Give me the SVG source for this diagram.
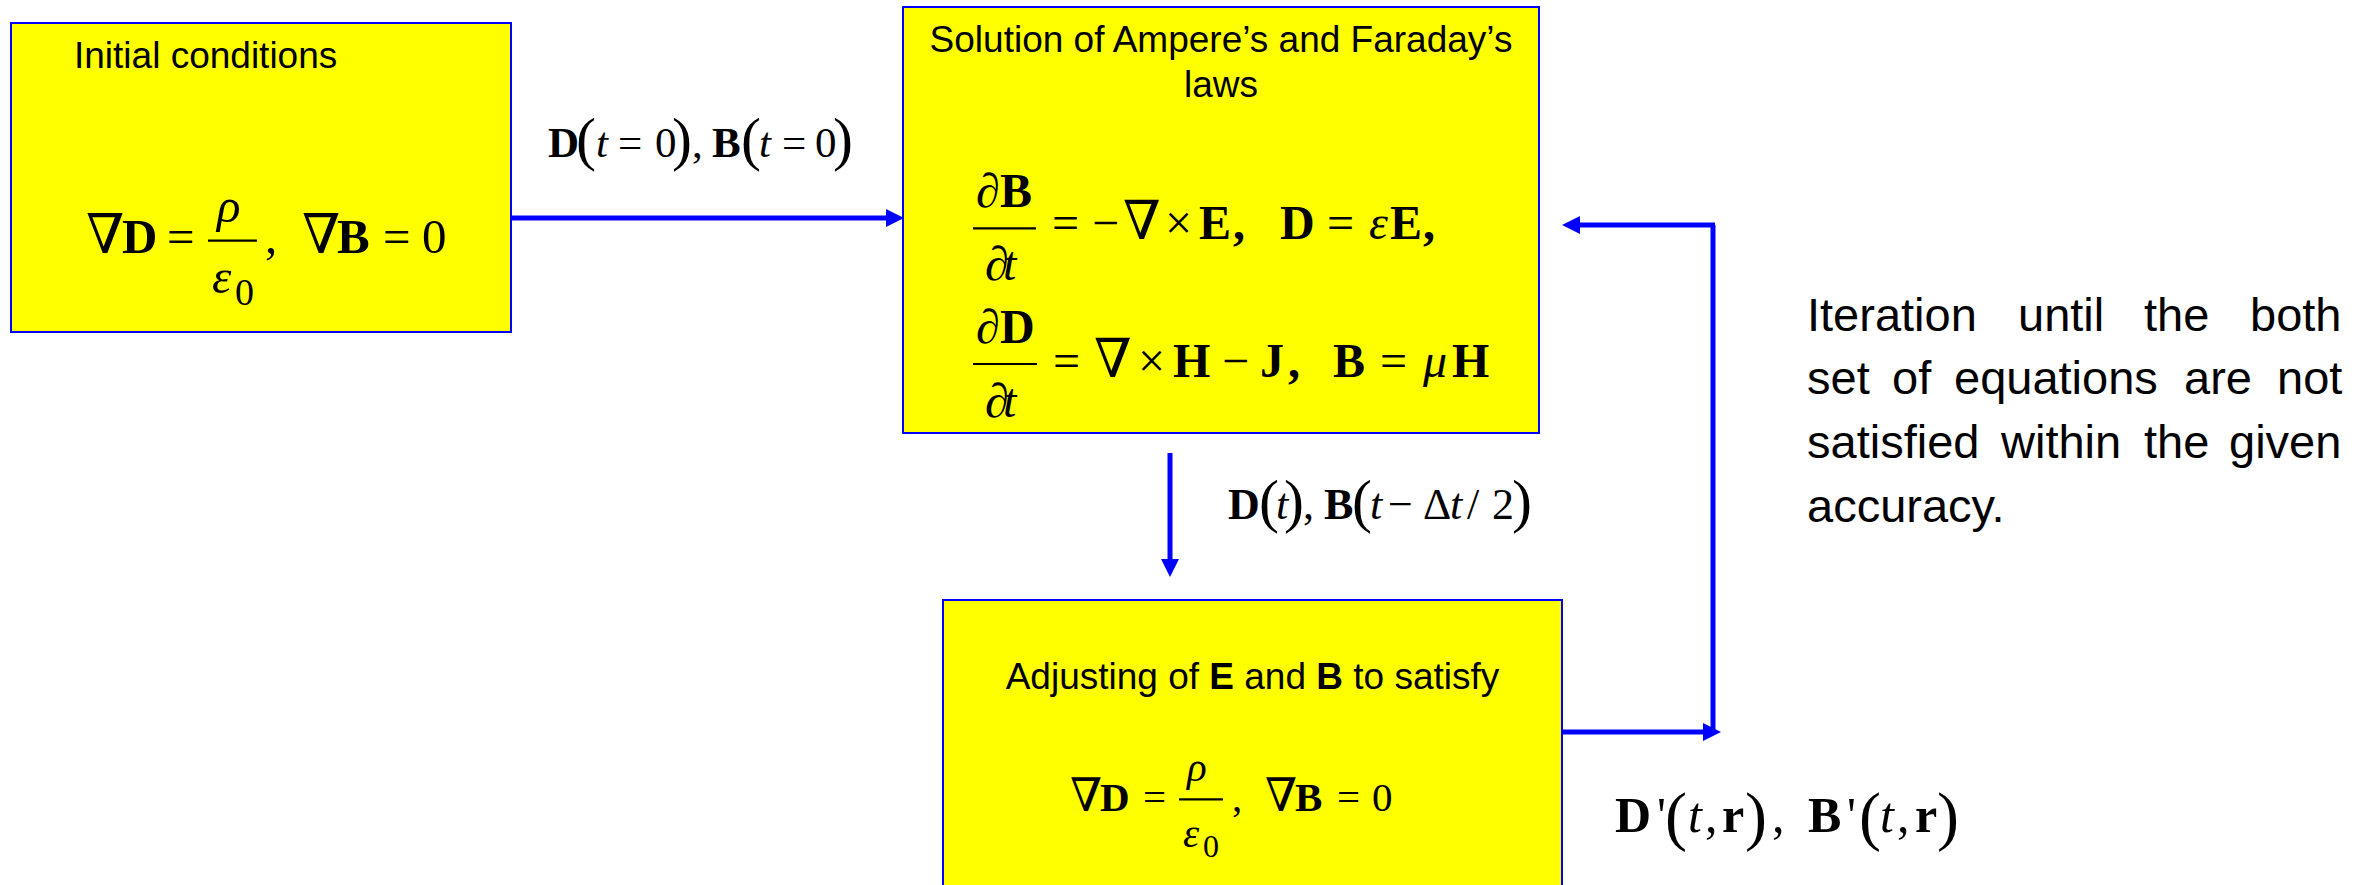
<svg xmlns="http://www.w3.org/2000/svg" width="2371" height="885" viewBox="0 0 2371 885">
<style>
.box{fill:#FFFF00;stroke:#0000FF;stroke-width:2}
.conn{stroke:#0000FF;stroke-width:5;fill:none}
.bar{stroke:#000;stroke-width:2.2}
.sans{font-family:"Liberation Sans",Arial,sans-serif;fill:#000}
.m{font-family:"Liberation Serif","Times New Roman","DejaVu Serif",serif;fill:#000}
.b{font-weight:bold}
.i{font-style:italic}
</style>
<defs>
<marker id="ah" markerUnits="userSpaceOnUse" viewBox="0 0 18 18" markerWidth="18" markerHeight="18" refX="0" refY="9" orient="auto">
<path d="M0,0 L18,9 L0,18 z" fill="#0000FF"/>
</marker>
</defs>
<rect width="2371" height="885" fill="#FFFFFF"/>

<g id="node-initial">
<rect class="box" x="11" y="23" width="500" height="309"/>
<text class="sans" x="74" y="68" font-size="37">Initial conditions</text>
<text class="m" font-size="49" y="253"><tspan x="86" font-size="55">∇</tspan><tspan class="b" x="122">D</tspan><tspan x="167">=</tspan><tspan x="265">,</tspan><tspan x="302" font-size="55">∇</tspan><tspan class="b" x="337">B</tspan><tspan x="383">=</tspan><tspan x="422">0</tspan></text>
<text class="m i" font-size="49" x="217" y="222">ρ</text>
<line class="bar" x1="208" y1="240.7" x2="257" y2="240.7"/>
<text class="m i" font-size="49" x="212" y="293">ε</text>
<text class="m" font-size="38" x="235" y="305">0</text>
</g>

<g id="node-solution">
<rect class="box" x="903" y="7" width="636" height="426"/>
<text class="sans" font-size="37" text-anchor="middle"><tspan x="1221" y="52">Solution of Ampere’s and Faraday’s</tspan><tspan x="1221" y="97">laws</tspan></text>
<text class="m" font-size="48" y="207"><tspan x="976">∂</tspan><tspan class="b" x="1000">B</tspan></text>
<line class="bar" x1="973" y1="228.3" x2="1036" y2="228.3"/>
<text class="m" font-size="48" y="280"><tspan x="985">∂</tspan><tspan class="i" x="1003">t</tspan></text>
<text class="m" font-size="48" y="239"><tspan x="1052">=</tspan><tspan x="1092">−</tspan><tspan x="1123" font-size="54">∇</tspan><tspan x="1165">×</tspan><tspan class="b" x="1199">E</tspan><tspan class="b" x="1233">,</tspan><tspan class="b" x="1280">D</tspan><tspan x="1327">=</tspan><tspan class="i" x="1369">ε</tspan><tspan class="b" x="1390">E</tspan><tspan class="b" x="1423">,</tspan></text>
<text class="m" font-size="48" y="343"><tspan x="976">∂</tspan><tspan class="b" x="1000">D</tspan></text>
<line class="bar" x1="973" y1="364" x2="1037" y2="364"/>
<text class="m" font-size="48" y="417"><tspan x="985">∂</tspan><tspan class="i" x="1003">t</tspan></text>
<text class="m" font-size="48" y="377"><tspan x="1053">=</tspan><tspan x="1094" font-size="54">∇</tspan><tspan x="1138">×</tspan><tspan class="b" x="1173">H</tspan><tspan x="1222">−</tspan><tspan class="b" x="1260">J</tspan><tspan class="b" x="1288">,</tspan><tspan class="b" x="1333">B</tspan><tspan x="1380">=</tspan><tspan class="i" x="1423">μ</tspan><tspan class="b" x="1452">H</tspan></text>
</g>

<g id="node-adjust">
<rect class="box" x="943" y="600" width="619" height="300"/>
<text class="sans" font-size="37" x="1252.5" y="689" text-anchor="middle">Adjusting of <tspan class="b">E</tspan> and <tspan class="b">B</tspan> to satisfy</text>
<text class="m" font-size="41" y="811"><tspan x="1070" font-size="46">∇</tspan><tspan class="b" x="1100">D</tspan><tspan x="1143">=</tspan><tspan x="1232">,</tspan><tspan x="1265" font-size="46">∇</tspan><tspan class="b" x="1295">B</tspan><tspan x="1337">=</tspan><tspan x="1372">0</tspan></text>
<text class="m i" font-size="41" x="1187" y="781">ρ</text>
<line class="bar" x1="1179" y1="799.3" x2="1223" y2="799.3"/>
<text class="m i" font-size="41" x="1183" y="847">ε</text>
<text class="m" font-size="32" x="1203" y="857">0</text>
</g>

<g id="connectors">
<path class="conn" d="M511,218 H886" marker-end="url(#ah)"/>
<path class="conn" d="M1170,453 V559" marker-end="url(#ah)"/>
<path class="conn" d="M1562,732 H1703" marker-end="url(#ah)"/>
<path class="conn" d="M1713,732 V225"/>
<path class="conn" d="M1715,225 H1580" marker-end="url(#ah)"/>
</g>

<g id="label-init">
<text class="m" font-size="43" y="157"><tspan class="b" x="548">D</tspan><tspan class="i" x="596">t</tspan><tspan x="618">=</tspan><tspan x="655">0</tspan><tspan x="692">,</tspan><tspan class="b" x="712">B</tspan><tspan class="i" x="759">t</tspan><tspan x="782">=</tspan><tspan x="815">0</tspan></text>
<text class="m" font-size="60" y="159"><tspan x="576">(</tspan><tspan x="672">)</tspan><tspan x="741">(</tspan><tspan x="833">)</tspan></text>
</g>

<g id="label-step">
<text class="m" font-size="44" y="519"><tspan class="b" x="1228">D</tspan><tspan class="i" x="1276">t</tspan><tspan x="1303">,</tspan><tspan class="b" x="1324">B</tspan><tspan class="i" x="1370">t</tspan><tspan x="1388">−</tspan><tspan x="1423">Δ</tspan><tspan class="i" x="1450">t</tspan><tspan x="1467">/</tspan><tspan x="1492">2</tspan></text>
<text class="m" font-size="60" y="521"><tspan x="1259">(</tspan><tspan x="1284">)</tspan><tspan x="1352">(</tspan><tspan x="1512">)</tspan></text>
</g>

<g id="label-result">
<text class="m" font-size="50" y="832"><tspan class="b" x="1615">D</tspan><tspan x="1657">'</tspan><tspan class="i" x="1688">t</tspan><tspan x="1705">,</tspan><tspan class="b" x="1722">r</tspan><tspan x="1772">,</tspan><tspan class="b" x="1808">B</tspan><tspan x="1847">'</tspan><tspan class="i" x="1880">t</tspan><tspan x="1897">,</tspan><tspan class="b" x="1915">r</tspan></text>
<text class="m" font-size="66" y="838"><tspan x="1665">(</tspan><tspan x="1745">)</tspan><tspan x="1859">(</tspan><tspan x="1937">)</tspan></text>
</g>

<g id="note-iteration">
<text class="sans" font-size="47"><tspan x="1807" y="331">Iteration</tspan><tspan x="2018" y="331">until</tspan><tspan x="2144" y="331">the</tspan><tspan x="2250" y="331">both</tspan><tspan x="1807" y="394">set</tspan><tspan x="1892" y="394">of</tspan><tspan x="1954" y="394">equations</tspan><tspan x="2184" y="394">are</tspan><tspan x="2277" y="394">not</tspan><tspan x="1807" y="458">satisfied</tspan><tspan x="2001" y="458">within</tspan><tspan x="2144" y="458">the</tspan><tspan x="2229" y="458">given</tspan><tspan x="1807" y="522">accuracy.</tspan></text>
</g>
</svg>
